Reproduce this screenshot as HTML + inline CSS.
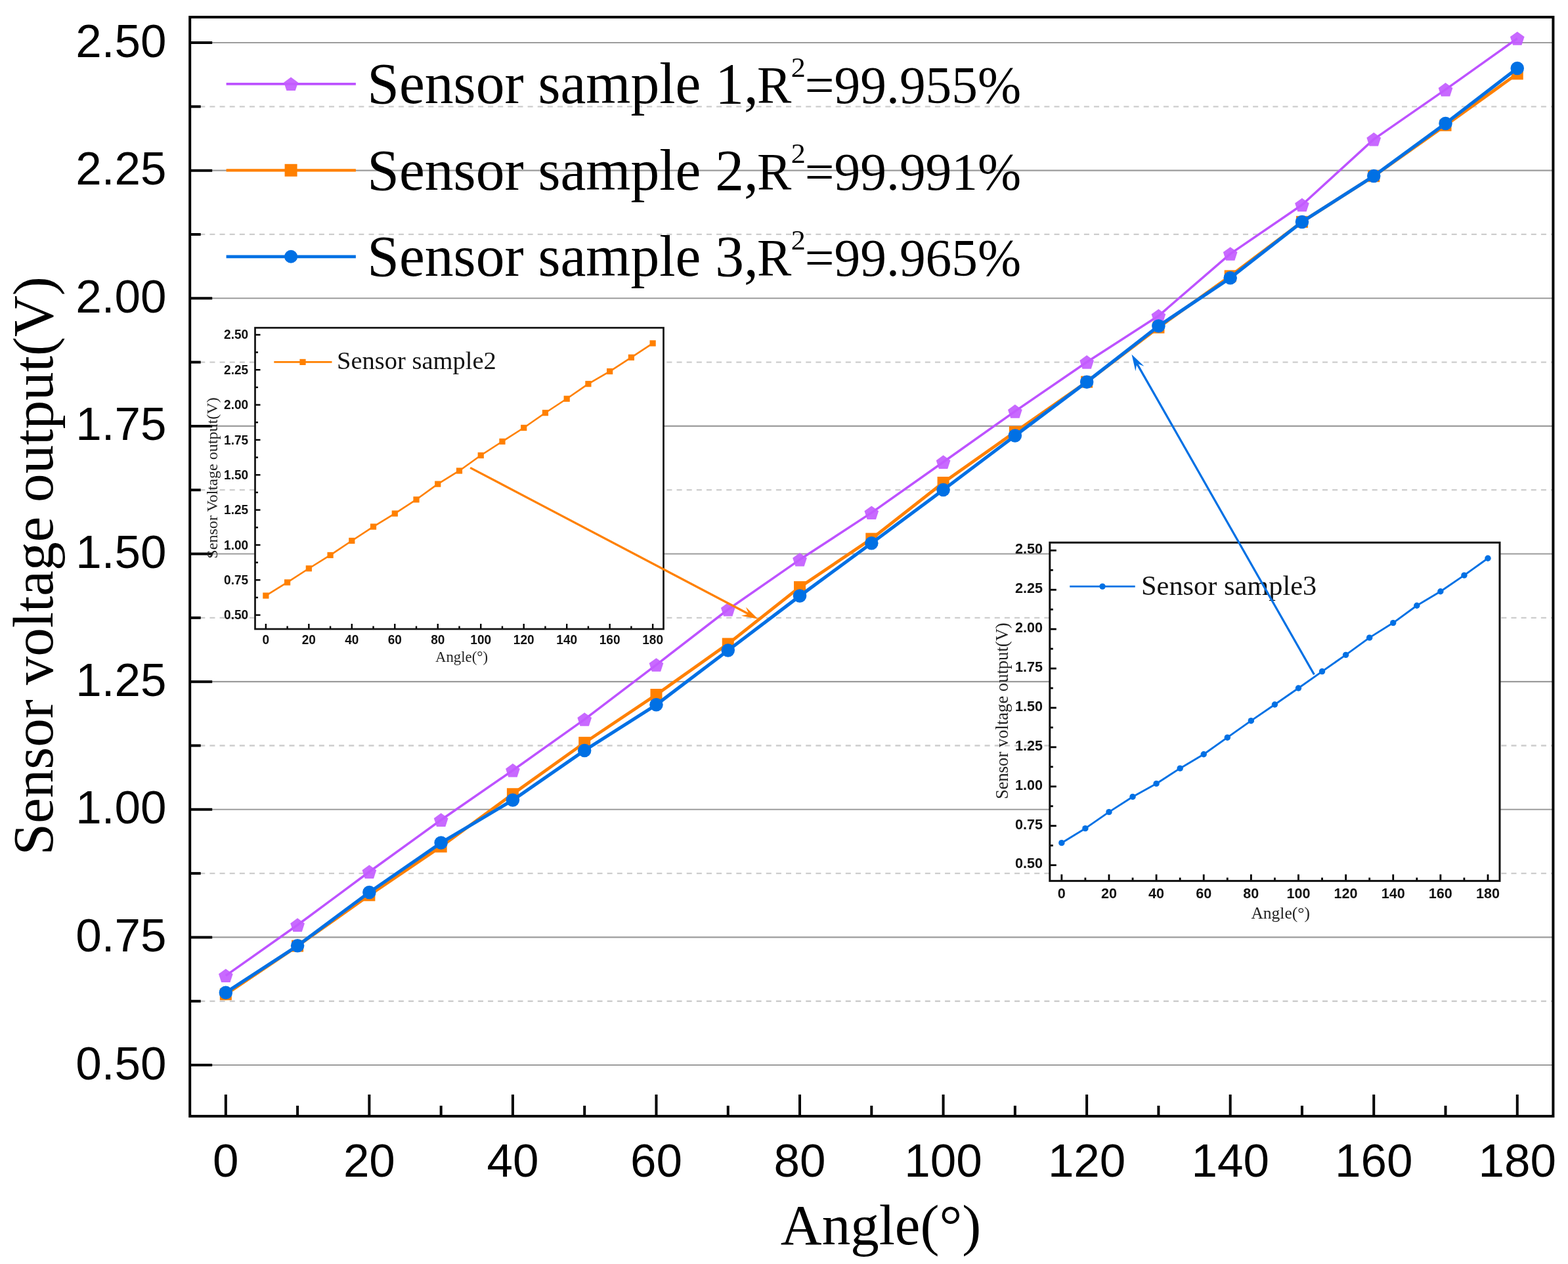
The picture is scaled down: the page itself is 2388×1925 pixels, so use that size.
<!DOCTYPE html>
<html><head><meta charset="utf-8"><title>Sensor voltage output vs angle</title>
<style>
html,body{margin:0;padding:0;background:#fff;}
body{width:2388px;height:1925px;overflow:hidden;}
svg{display:block;}
</style></head>
<body>
<svg width="2388" height="1925" viewBox="0 0 2388 1925">
<rect x="0" y="0" width="2388" height="1925" fill="#fff"/>
<line x1="289.20" y1="1524.73" x2="2365.40" y2="1524.73" stroke="#cdcdcd" stroke-width="2.3" stroke-dasharray="8 7.13"/>
<line x1="289.20" y1="1330.11" x2="2365.40" y2="1330.11" stroke="#cdcdcd" stroke-width="2.3" stroke-dasharray="8 7.13"/>
<line x1="289.20" y1="1135.48" x2="2365.40" y2="1135.48" stroke="#cdcdcd" stroke-width="2.3" stroke-dasharray="8 7.13"/>
<line x1="289.20" y1="940.85" x2="2365.40" y2="940.85" stroke="#cdcdcd" stroke-width="2.3" stroke-dasharray="8 7.13"/>
<line x1="289.20" y1="746.22" x2="2365.40" y2="746.22" stroke="#cdcdcd" stroke-width="2.3" stroke-dasharray="8 7.13"/>
<line x1="289.20" y1="551.60" x2="2365.40" y2="551.60" stroke="#cdcdcd" stroke-width="2.3" stroke-dasharray="8 7.13"/>
<line x1="289.20" y1="356.97" x2="2365.40" y2="356.97" stroke="#cdcdcd" stroke-width="2.3" stroke-dasharray="8 7.13"/>
<line x1="289.20" y1="162.34" x2="2365.40" y2="162.34" stroke="#cdcdcd" stroke-width="2.3" stroke-dasharray="8 7.13"/>
<line x1="289.20" y1="1622.05" x2="2365.40" y2="1622.05" stroke="#9c9c9c" stroke-width="2.1"/>
<line x1="289.20" y1="1427.42" x2="2365.40" y2="1427.42" stroke="#9c9c9c" stroke-width="2.1"/>
<line x1="289.20" y1="1232.79" x2="2365.40" y2="1232.79" stroke="#9c9c9c" stroke-width="2.1"/>
<line x1="289.20" y1="1038.17" x2="2365.40" y2="1038.17" stroke="#9c9c9c" stroke-width="2.1"/>
<line x1="289.20" y1="843.54" x2="2365.40" y2="843.54" stroke="#9c9c9c" stroke-width="2.1"/>
<line x1="289.20" y1="648.91" x2="2365.40" y2="648.91" stroke="#9c9c9c" stroke-width="2.1"/>
<line x1="289.20" y1="454.28" x2="2365.40" y2="454.28" stroke="#9c9c9c" stroke-width="2.1"/>
<line x1="289.20" y1="259.65" x2="2365.40" y2="259.65" stroke="#9c9c9c" stroke-width="2.1"/>
<line x1="289.20" y1="65.03" x2="2365.40" y2="65.03" stroke="#9c9c9c" stroke-width="2.1"/>
<line x1="289.20" y1="1622.05" x2="323.20" y2="1622.05" stroke="#000" stroke-width="4"/>
<line x1="289.20" y1="1427.42" x2="323.20" y2="1427.42" stroke="#000" stroke-width="4"/>
<line x1="289.20" y1="1232.79" x2="323.20" y2="1232.79" stroke="#000" stroke-width="4"/>
<line x1="289.20" y1="1038.17" x2="323.20" y2="1038.17" stroke="#000" stroke-width="4"/>
<line x1="289.20" y1="843.54" x2="323.20" y2="843.54" stroke="#000" stroke-width="4"/>
<line x1="289.20" y1="648.91" x2="323.20" y2="648.91" stroke="#000" stroke-width="4"/>
<line x1="289.20" y1="454.28" x2="323.20" y2="454.28" stroke="#000" stroke-width="4"/>
<line x1="289.20" y1="259.65" x2="323.20" y2="259.65" stroke="#000" stroke-width="4"/>
<line x1="289.20" y1="65.03" x2="323.20" y2="65.03" stroke="#000" stroke-width="4"/>
<line x1="289.20" y1="1524.73" x2="305.70" y2="1524.73" stroke="#000" stroke-width="4"/>
<line x1="289.20" y1="1330.11" x2="305.70" y2="1330.11" stroke="#000" stroke-width="4"/>
<line x1="289.20" y1="1135.48" x2="305.70" y2="1135.48" stroke="#000" stroke-width="4"/>
<line x1="289.20" y1="940.85" x2="305.70" y2="940.85" stroke="#000" stroke-width="4"/>
<line x1="289.20" y1="746.22" x2="305.70" y2="746.22" stroke="#000" stroke-width="4"/>
<line x1="289.20" y1="551.60" x2="305.70" y2="551.60" stroke="#000" stroke-width="4"/>
<line x1="289.20" y1="356.97" x2="305.70" y2="356.97" stroke="#000" stroke-width="4"/>
<line x1="289.20" y1="162.34" x2="305.70" y2="162.34" stroke="#000" stroke-width="4"/>
<line x1="343.84" y1="1699.90" x2="343.84" y2="1666.90" stroke="#000" stroke-width="4"/>
<line x1="562.38" y1="1699.90" x2="562.38" y2="1666.90" stroke="#000" stroke-width="4"/>
<line x1="780.93" y1="1699.90" x2="780.93" y2="1666.90" stroke="#000" stroke-width="4"/>
<line x1="999.48" y1="1699.90" x2="999.48" y2="1666.90" stroke="#000" stroke-width="4"/>
<line x1="1218.03" y1="1699.90" x2="1218.03" y2="1666.90" stroke="#000" stroke-width="4"/>
<line x1="1436.57" y1="1699.90" x2="1436.57" y2="1666.90" stroke="#000" stroke-width="4"/>
<line x1="1655.12" y1="1699.90" x2="1655.12" y2="1666.90" stroke="#000" stroke-width="4"/>
<line x1="1873.67" y1="1699.90" x2="1873.67" y2="1666.90" stroke="#000" stroke-width="4"/>
<line x1="2092.22" y1="1699.90" x2="2092.22" y2="1666.90" stroke="#000" stroke-width="4"/>
<line x1="2310.76" y1="1699.90" x2="2310.76" y2="1666.90" stroke="#000" stroke-width="4"/>
<line x1="453.11" y1="1699.90" x2="453.11" y2="1683.90" stroke="#000" stroke-width="4"/>
<line x1="671.66" y1="1699.90" x2="671.66" y2="1683.90" stroke="#000" stroke-width="4"/>
<line x1="890.21" y1="1699.90" x2="890.21" y2="1683.90" stroke="#000" stroke-width="4"/>
<line x1="1108.75" y1="1699.90" x2="1108.75" y2="1683.90" stroke="#000" stroke-width="4"/>
<line x1="1327.30" y1="1699.90" x2="1327.30" y2="1683.90" stroke="#000" stroke-width="4"/>
<line x1="1545.85" y1="1699.90" x2="1545.85" y2="1683.90" stroke="#000" stroke-width="4"/>
<line x1="1764.39" y1="1699.90" x2="1764.39" y2="1683.90" stroke="#000" stroke-width="4"/>
<line x1="1982.94" y1="1699.90" x2="1982.94" y2="1683.90" stroke="#000" stroke-width="4"/>
<line x1="2201.49" y1="1699.90" x2="2201.49" y2="1683.90" stroke="#000" stroke-width="4"/>
<text x="253.4" y="1643.55" font-family="'Liberation Sans', Arial, sans-serif" font-size="71" text-anchor="end" fill="#000">0.50</text>
<text x="253.4" y="1448.92" font-family="'Liberation Sans', Arial, sans-serif" font-size="71" text-anchor="end" fill="#000">0.75</text>
<text x="253.4" y="1254.29" font-family="'Liberation Sans', Arial, sans-serif" font-size="71" text-anchor="end" fill="#000">1.00</text>
<text x="253.4" y="1059.67" font-family="'Liberation Sans', Arial, sans-serif" font-size="71" text-anchor="end" fill="#000">1.25</text>
<text x="253.4" y="865.04" font-family="'Liberation Sans', Arial, sans-serif" font-size="71" text-anchor="end" fill="#000">1.50</text>
<text x="253.4" y="670.41" font-family="'Liberation Sans', Arial, sans-serif" font-size="71" text-anchor="end" fill="#000">1.75</text>
<text x="253.4" y="475.78" font-family="'Liberation Sans', Arial, sans-serif" font-size="71" text-anchor="end" fill="#000">2.00</text>
<text x="253.4" y="281.15" font-family="'Liberation Sans', Arial, sans-serif" font-size="71" text-anchor="end" fill="#000">2.25</text>
<text x="253.4" y="86.53" font-family="'Liberation Sans', Arial, sans-serif" font-size="71" text-anchor="end" fill="#000">2.50</text>
<text x="343.84" y="1792" font-family="'Liberation Sans', Arial, sans-serif" font-size="71" text-anchor="middle" fill="#000">0</text>
<text x="562.38" y="1792" font-family="'Liberation Sans', Arial, sans-serif" font-size="71" text-anchor="middle" fill="#000">20</text>
<text x="780.93" y="1792" font-family="'Liberation Sans', Arial, sans-serif" font-size="71" text-anchor="middle" fill="#000">40</text>
<text x="999.48" y="1792" font-family="'Liberation Sans', Arial, sans-serif" font-size="71" text-anchor="middle" fill="#000">60</text>
<text x="1218.03" y="1792" font-family="'Liberation Sans', Arial, sans-serif" font-size="71" text-anchor="middle" fill="#000">80</text>
<text x="1436.57" y="1792" font-family="'Liberation Sans', Arial, sans-serif" font-size="71" text-anchor="middle" fill="#000">100</text>
<text x="1655.12" y="1792" font-family="'Liberation Sans', Arial, sans-serif" font-size="71" text-anchor="middle" fill="#000">120</text>
<text x="1873.67" y="1792" font-family="'Liberation Sans', Arial, sans-serif" font-size="71" text-anchor="middle" fill="#000">140</text>
<text x="2092.22" y="1792" font-family="'Liberation Sans', Arial, sans-serif" font-size="71" text-anchor="middle" fill="#000">160</text>
<text x="2310.76" y="1792" font-family="'Liberation Sans', Arial, sans-serif" font-size="71" text-anchor="middle" fill="#000">180</text>
<text x="1341.5" y="1895" font-family="'Liberation Serif', 'Times New Roman', serif" font-size="87" text-anchor="middle" fill="#000">Angle(°)</text>
<text transform="translate(80.3,861.8) rotate(-90)" x="0" y="0" font-family="'Liberation Serif', 'Times New Roman', serif" font-size="87.2" text-anchor="middle" fill="#000">Sensor voltage output(V)</text>
<line x1="344.6" y1="127.9" x2="541.9" y2="127.9" stroke="#BD52FF" stroke-width="3.8"/>
<polygon points="443.10,117.50 453.94,125.38 449.80,138.12 436.40,138.12 432.26,125.38" fill="#C35CFF" opacity="0.92"/>
<text transform="translate(559.24,157.40) scale(0.995,1)" font-family="'Liberation Serif', 'Times New Roman', serif" font-size="88" fill="#000">Sensor sample 1,</text>
<text transform="translate(1153.1,157.40) scale(0.98,1)" font-family="'Liberation Serif', 'Times New Roman', serif" font-size="80" fill="#000">R</text>
<text transform="translate(1204.7,116.90) scale(1.05,1)" font-family="'Liberation Serif', 'Times New Roman', serif" font-size="42" fill="#000">2</text>
<text transform="translate(1225.8,157.40) scale(0.993,1)" font-family="'Liberation Serif', 'Times New Roman', serif" font-size="80" fill="#000">=99.955%</text>
<line x1="344.6" y1="259.3" x2="541.9" y2="259.3" stroke="#FF8000" stroke-width="4.2"/>
<rect x="433.6" y="249.8" width="19" height="19" fill="#FF8000"/>
<text transform="translate(559.24,288.80) scale(0.995,1)" font-family="'Liberation Serif', 'Times New Roman', serif" font-size="88" fill="#000">Sensor sample 2,</text>
<text transform="translate(1153.1,288.80) scale(0.98,1)" font-family="'Liberation Serif', 'Times New Roman', serif" font-size="80" fill="#000">R</text>
<text transform="translate(1204.7,248.30) scale(1.05,1)" font-family="'Liberation Serif', 'Times New Roman', serif" font-size="42" fill="#000">2</text>
<text transform="translate(1225.8,288.80) scale(0.993,1)" font-family="'Liberation Serif', 'Times New Roman', serif" font-size="80" fill="#000">=99.991%</text>
<line x1="344.6" y1="390.8" x2="541.9" y2="390.8" stroke="#0070E4" stroke-width="4.8"/>
<circle cx="443.1" cy="390.8" r="10" fill="#0070E4"/>
<text transform="translate(559.24,420.30) scale(0.995,1)" font-family="'Liberation Serif', 'Times New Roman', serif" font-size="88" fill="#000">Sensor sample 3,</text>
<text transform="translate(1153.1,420.30) scale(0.98,1)" font-family="'Liberation Serif', 'Times New Roman', serif" font-size="80" fill="#000">R</text>
<text transform="translate(1204.7,379.80) scale(1.05,1)" font-family="'Liberation Serif', 'Times New Roman', serif" font-size="42" fill="#000">2</text>
<text transform="translate(1225.8,420.30) scale(0.993,1)" font-family="'Liberation Serif', 'Times New Roman', serif" font-size="80" fill="#000">=99.965%</text>
<polyline points="343.84,1485.81 453.11,1408.74 562.38,1327.77 671.66,1248.75 780.93,1173.24 890.21,1095.62 999.48,1012.55 1108.75,928.24 1218.03,852.33 1327.30,780.87 1436.57,703.72 1545.85,626.41 1655.12,551.44 1764.39,481.06 1873.67,386.63 1982.94,312.05 2092.22,212.16 2201.49,136.42 2310.76,58.64" fill="none" stroke="#BD52FF" stroke-width="3.5" stroke-linejoin="round"/>
<polygon points="343.84,1475.41 354.68,1483.29 350.54,1496.03 337.14,1496.03 332.99,1483.29" fill="#C35CFF" opacity="0.92"/>
<polygon points="453.11,1398.34 463.95,1406.21 459.81,1418.96 446.41,1418.96 442.27,1406.21" fill="#C35CFF" opacity="0.92"/>
<polygon points="562.38,1317.37 573.23,1325.25 569.08,1337.99 555.68,1337.99 551.54,1325.25" fill="#C35CFF" opacity="0.92"/>
<polygon points="671.66,1238.35 682.50,1246.23 678.36,1258.98 664.96,1258.98 660.82,1246.23" fill="#C35CFF" opacity="0.92"/>
<polygon points="780.93,1162.84 791.77,1170.71 787.63,1183.46 774.23,1183.46 770.09,1170.71" fill="#C35CFF" opacity="0.92"/>
<polygon points="890.21,1085.22 901.05,1093.10 896.91,1105.84 883.50,1105.84 879.36,1093.10" fill="#C35CFF" opacity="0.92"/>
<polygon points="999.48,1002.15 1010.32,1010.03 1006.18,1022.77 992.78,1022.77 988.64,1010.03" fill="#C35CFF" opacity="0.92"/>
<polygon points="1108.75,917.84 1119.59,925.72 1115.45,938.46 1102.05,938.46 1097.91,925.72" fill="#C35CFF" opacity="0.92"/>
<polygon points="1218.03,841.93 1228.87,849.81 1224.73,862.56 1211.33,862.56 1207.18,849.81" fill="#C35CFF" opacity="0.92"/>
<polygon points="1327.30,770.47 1338.14,778.34 1334.00,791.09 1320.60,791.09 1316.46,778.34" fill="#C35CFF" opacity="0.92"/>
<polygon points="1436.57,693.32 1447.42,701.19 1443.27,713.94 1429.87,713.94 1425.73,701.19" fill="#C35CFF" opacity="0.92"/>
<polygon points="1545.85,616.01 1556.69,623.89 1552.55,636.63 1539.15,636.63 1535.01,623.89" fill="#C35CFF" opacity="0.92"/>
<polygon points="1655.12,541.04 1665.96,548.92 1661.82,561.66 1648.42,561.66 1644.28,548.92" fill="#C35CFF" opacity="0.92"/>
<polygon points="1764.39,470.66 1775.24,478.54 1771.10,491.28 1757.69,491.28 1753.55,478.54" fill="#C35CFF" opacity="0.92"/>
<polygon points="1873.67,376.23 1884.51,384.11 1880.37,396.85 1866.97,396.85 1862.83,384.11" fill="#C35CFF" opacity="0.92"/>
<polygon points="1982.94,301.65 1993.78,309.52 1989.64,322.27 1976.24,322.27 1972.10,309.52" fill="#C35CFF" opacity="0.92"/>
<polygon points="2092.22,201.76 2103.06,209.64 2098.92,222.39 2085.52,222.39 2081.37,209.64" fill="#C35CFF" opacity="0.92"/>
<polygon points="2201.49,126.02 2212.33,133.89 2208.19,146.64 2194.79,146.64 2190.65,133.89" fill="#C35CFF" opacity="0.92"/>
<polygon points="2310.76,48.24 2321.61,56.12 2317.46,68.86 2304.06,68.86 2299.92,56.12" fill="#C35CFF" opacity="0.92"/>
<polyline points="343.84,1514.22 453.11,1440.66 562.38,1363.35 671.66,1289.31 780.93,1209.28 890.21,1131.12 999.48,1058.02 1108.75,980.56 1218.03,894.14 1327.30,820.57 1436.57,735.01 1545.85,657.86 1655.12,581.65 1764.39,498.66 1873.67,420.42 1982.94,337.89 2092.22,268.22 2201.49,190.76 2310.76,112.36" fill="none" stroke="#FF8000" stroke-width="4.8" stroke-linejoin="round"/>
<rect x="334.84" y="1505.22" width="18" height="18" fill="#FF8000"/>
<rect x="444.11" y="1431.66" width="18" height="18" fill="#FF8000"/>
<rect x="553.38" y="1354.35" width="18" height="18" fill="#FF8000"/>
<rect x="662.66" y="1280.31" width="18" height="18" fill="#FF8000"/>
<rect x="771.93" y="1200.28" width="18" height="18" fill="#FF8000"/>
<rect x="881.21" y="1122.12" width="18" height="18" fill="#FF8000"/>
<rect x="990.48" y="1049.02" width="18" height="18" fill="#FF8000"/>
<rect x="1099.75" y="971.56" width="18" height="18" fill="#FF8000"/>
<rect x="1209.03" y="885.14" width="18" height="18" fill="#FF8000"/>
<rect x="1318.30" y="811.57" width="18" height="18" fill="#FF8000"/>
<rect x="1427.57" y="726.01" width="18" height="18" fill="#FF8000"/>
<rect x="1536.85" y="648.86" width="18" height="18" fill="#FF8000"/>
<rect x="1646.12" y="572.65" width="18" height="18" fill="#FF8000"/>
<rect x="1755.39" y="489.66" width="18" height="18" fill="#FF8000"/>
<rect x="1864.67" y="411.42" width="18" height="18" fill="#FF8000"/>
<rect x="1973.94" y="328.89" width="18" height="18" fill="#FF8000"/>
<rect x="2083.22" y="259.22" width="18" height="18" fill="#FF8000"/>
<rect x="2192.49" y="181.76" width="18" height="18" fill="#FF8000"/>
<rect x="2301.76" y="103.36" width="18" height="18" fill="#FF8000"/>
<polyline points="343.84,1511.73 453.11,1440.27 562.38,1358.99 671.66,1283.55 780.93,1218.55 890.21,1142.95 999.48,1073.35 1108.75,990.44 1218.03,907.61 1327.30,827.27 1436.57,746.07 1545.85,663.62 1655.12,581.65 1764.39,496.55 1873.67,423.30 1982.94,337.89 2092.22,268.06 2201.49,188.03 2310.76,104.03" fill="none" stroke="#0070E4" stroke-width="5.1" stroke-linejoin="round"/>
<circle cx="343.84" cy="1511.73" r="10.25" fill="#0070E4"/>
<circle cx="453.11" cy="1440.27" r="10.25" fill="#0070E4"/>
<circle cx="562.38" cy="1358.99" r="10.25" fill="#0070E4"/>
<circle cx="671.66" cy="1283.55" r="10.25" fill="#0070E4"/>
<circle cx="780.93" cy="1218.55" r="10.25" fill="#0070E4"/>
<circle cx="890.21" cy="1142.95" r="10.25" fill="#0070E4"/>
<circle cx="999.48" cy="1073.35" r="10.25" fill="#0070E4"/>
<circle cx="1108.75" cy="990.44" r="10.25" fill="#0070E4"/>
<circle cx="1218.03" cy="907.61" r="10.25" fill="#0070E4"/>
<circle cx="1327.30" cy="827.27" r="10.25" fill="#0070E4"/>
<circle cx="1436.57" cy="746.07" r="10.25" fill="#0070E4"/>
<circle cx="1545.85" cy="663.62" r="10.25" fill="#0070E4"/>
<circle cx="1655.12" cy="581.65" r="10.25" fill="#0070E4"/>
<circle cx="1764.39" cy="496.55" r="10.25" fill="#0070E4"/>
<circle cx="1873.67" cy="423.30" r="10.25" fill="#0070E4"/>
<circle cx="1982.94" cy="337.89" r="10.25" fill="#0070E4"/>
<circle cx="2092.22" cy="268.06" r="10.25" fill="#0070E4"/>
<circle cx="2201.49" cy="188.03" r="10.25" fill="#0070E4"/>
<circle cx="2310.76" cy="104.03" r="10.25" fill="#0070E4"/>
<rect x="289.20" y="26.10" width="2076.20" height="1673.80" fill="none" stroke="#000" stroke-width="4"/>
<rect x="388.50" y="499.20" width="622.00" height="458.80" fill="#fff"/>
<line x1="388.50" y1="936.66" x2="396.50" y2="936.66" stroke="#000" stroke-width="2.4"/>
<line x1="388.50" y1="883.31" x2="396.50" y2="883.31" stroke="#000" stroke-width="2.4"/>
<line x1="388.50" y1="829.96" x2="396.50" y2="829.96" stroke="#000" stroke-width="2.4"/>
<line x1="388.50" y1="776.61" x2="396.50" y2="776.61" stroke="#000" stroke-width="2.4"/>
<line x1="388.50" y1="723.27" x2="396.50" y2="723.27" stroke="#000" stroke-width="2.4"/>
<line x1="388.50" y1="669.92" x2="396.50" y2="669.92" stroke="#000" stroke-width="2.4"/>
<line x1="388.50" y1="616.57" x2="396.50" y2="616.57" stroke="#000" stroke-width="2.4"/>
<line x1="388.50" y1="563.22" x2="396.50" y2="563.22" stroke="#000" stroke-width="2.4"/>
<line x1="388.50" y1="509.87" x2="396.50" y2="509.87" stroke="#000" stroke-width="2.4"/>
<line x1="388.50" y1="909.99" x2="393.00" y2="909.99" stroke="#000" stroke-width="2.4"/>
<line x1="388.50" y1="856.64" x2="393.00" y2="856.64" stroke="#000" stroke-width="2.4"/>
<line x1="388.50" y1="803.29" x2="393.00" y2="803.29" stroke="#000" stroke-width="2.4"/>
<line x1="388.50" y1="749.94" x2="393.00" y2="749.94" stroke="#000" stroke-width="2.4"/>
<line x1="388.50" y1="696.59" x2="393.00" y2="696.59" stroke="#000" stroke-width="2.4"/>
<line x1="388.50" y1="643.24" x2="393.00" y2="643.24" stroke="#000" stroke-width="2.4"/>
<line x1="388.50" y1="589.89" x2="393.00" y2="589.89" stroke="#000" stroke-width="2.4"/>
<line x1="388.50" y1="536.54" x2="393.00" y2="536.54" stroke="#000" stroke-width="2.4"/>
<line x1="404.87" y1="958.00" x2="404.87" y2="950.00" stroke="#000" stroke-width="2.4"/>
<line x1="470.34" y1="958.00" x2="470.34" y2="950.00" stroke="#000" stroke-width="2.4"/>
<line x1="535.82" y1="958.00" x2="535.82" y2="950.00" stroke="#000" stroke-width="2.4"/>
<line x1="601.29" y1="958.00" x2="601.29" y2="950.00" stroke="#000" stroke-width="2.4"/>
<line x1="666.76" y1="958.00" x2="666.76" y2="950.00" stroke="#000" stroke-width="2.4"/>
<line x1="732.24" y1="958.00" x2="732.24" y2="950.00" stroke="#000" stroke-width="2.4"/>
<line x1="797.71" y1="958.00" x2="797.71" y2="950.00" stroke="#000" stroke-width="2.4"/>
<line x1="863.18" y1="958.00" x2="863.18" y2="950.00" stroke="#000" stroke-width="2.4"/>
<line x1="928.66" y1="958.00" x2="928.66" y2="950.00" stroke="#000" stroke-width="2.4"/>
<line x1="994.13" y1="958.00" x2="994.13" y2="950.00" stroke="#000" stroke-width="2.4"/>
<line x1="437.61" y1="958.00" x2="437.61" y2="953.50" stroke="#000" stroke-width="2.4"/>
<line x1="503.08" y1="958.00" x2="503.08" y2="953.50" stroke="#000" stroke-width="2.4"/>
<line x1="568.55" y1="958.00" x2="568.55" y2="953.50" stroke="#000" stroke-width="2.4"/>
<line x1="634.03" y1="958.00" x2="634.03" y2="953.50" stroke="#000" stroke-width="2.4"/>
<line x1="699.50" y1="958.00" x2="699.50" y2="953.50" stroke="#000" stroke-width="2.4"/>
<line x1="764.97" y1="958.00" x2="764.97" y2="953.50" stroke="#000" stroke-width="2.4"/>
<line x1="830.45" y1="958.00" x2="830.45" y2="953.50" stroke="#000" stroke-width="2.4"/>
<line x1="895.92" y1="958.00" x2="895.92" y2="953.50" stroke="#000" stroke-width="2.4"/>
<line x1="961.39" y1="958.00" x2="961.39" y2="953.50" stroke="#000" stroke-width="2.4"/>
<text transform="translate(378.20,943.26) scale(0.93,1)" font-family="'Liberation Sans', Arial, sans-serif" font-weight="bold" font-size="20.5" text-anchor="end" fill="#111">0.50</text>
<text transform="translate(378.20,889.91) scale(0.93,1)" font-family="'Liberation Sans', Arial, sans-serif" font-weight="bold" font-size="20.5" text-anchor="end" fill="#111">0.75</text>
<text transform="translate(378.20,836.56) scale(0.93,1)" font-family="'Liberation Sans', Arial, sans-serif" font-weight="bold" font-size="20.5" text-anchor="end" fill="#111">1.00</text>
<text transform="translate(378.20,783.21) scale(0.93,1)" font-family="'Liberation Sans', Arial, sans-serif" font-weight="bold" font-size="20.5" text-anchor="end" fill="#111">1.25</text>
<text transform="translate(378.20,729.87) scale(0.93,1)" font-family="'Liberation Sans', Arial, sans-serif" font-weight="bold" font-size="20.5" text-anchor="end" fill="#111">1.50</text>
<text transform="translate(378.20,676.52) scale(0.93,1)" font-family="'Liberation Sans', Arial, sans-serif" font-weight="bold" font-size="20.5" text-anchor="end" fill="#111">1.75</text>
<text transform="translate(378.20,623.17) scale(0.93,1)" font-family="'Liberation Sans', Arial, sans-serif" font-weight="bold" font-size="20.5" text-anchor="end" fill="#111">2.00</text>
<text transform="translate(378.20,569.82) scale(0.93,1)" font-family="'Liberation Sans', Arial, sans-serif" font-weight="bold" font-size="20.5" text-anchor="end" fill="#111">2.25</text>
<text transform="translate(378.20,516.47) scale(0.93,1)" font-family="'Liberation Sans', Arial, sans-serif" font-weight="bold" font-size="20.5" text-anchor="end" fill="#111">2.50</text>
<text transform="translate(404.87,981.00) scale(0.93,1)" font-family="'Liberation Sans', Arial, sans-serif" font-weight="bold" font-size="20.5" text-anchor="middle" fill="#111">0</text>
<text transform="translate(470.34,981.00) scale(0.93,1)" font-family="'Liberation Sans', Arial, sans-serif" font-weight="bold" font-size="20.5" text-anchor="middle" fill="#111">20</text>
<text transform="translate(535.82,981.00) scale(0.93,1)" font-family="'Liberation Sans', Arial, sans-serif" font-weight="bold" font-size="20.5" text-anchor="middle" fill="#111">40</text>
<text transform="translate(601.29,981.00) scale(0.93,1)" font-family="'Liberation Sans', Arial, sans-serif" font-weight="bold" font-size="20.5" text-anchor="middle" fill="#111">60</text>
<text transform="translate(666.76,981.00) scale(0.93,1)" font-family="'Liberation Sans', Arial, sans-serif" font-weight="bold" font-size="20.5" text-anchor="middle" fill="#111">80</text>
<text transform="translate(732.24,981.00) scale(0.93,1)" font-family="'Liberation Sans', Arial, sans-serif" font-weight="bold" font-size="20.5" text-anchor="middle" fill="#111">100</text>
<text transform="translate(797.71,981.00) scale(0.93,1)" font-family="'Liberation Sans', Arial, sans-serif" font-weight="bold" font-size="20.5" text-anchor="middle" fill="#111">120</text>
<text transform="translate(863.18,981.00) scale(0.93,1)" font-family="'Liberation Sans', Arial, sans-serif" font-weight="bold" font-size="20.5" text-anchor="middle" fill="#111">140</text>
<text transform="translate(928.66,981.00) scale(0.93,1)" font-family="'Liberation Sans', Arial, sans-serif" font-weight="bold" font-size="20.5" text-anchor="middle" fill="#111">160</text>
<text transform="translate(994.13,981.00) scale(0.93,1)" font-family="'Liberation Sans', Arial, sans-serif" font-weight="bold" font-size="20.5" text-anchor="middle" fill="#111">180</text>
<text x="703.00" y="1007.80" font-family="'Liberation Serif', 'Times New Roman', serif" font-size="22.8" text-anchor="middle" fill="#222">Angle(°)</text>
<text transform="translate(331.00,728.00) rotate(-90)" font-family="'Liberation Serif', 'Times New Roman', serif" font-size="24.1" text-anchor="middle" fill="#222">Sensor Voltage output(V)</text>
<polyline points="404.87,907.11 437.61,886.94 470.34,865.75 503.08,845.46 535.82,823.52 568.55,802.09 601.29,782.06 634.03,760.82 666.76,737.14 699.50,716.97 732.24,693.52 764.97,672.37 797.71,651.48 830.45,628.73 863.18,607.28 895.92,584.66 928.66,565.57 961.39,544.33 994.13,522.84" fill="none" stroke="#FF8000" stroke-width="2.6" stroke-linejoin="round"/>
<rect x="400.27" y="902.51" width="9.2" height="9.2" fill="#FF8000"/>
<rect x="433.01" y="882.34" width="9.2" height="9.2" fill="#FF8000"/>
<rect x="465.74" y="861.15" width="9.2" height="9.2" fill="#FF8000"/>
<rect x="498.48" y="840.86" width="9.2" height="9.2" fill="#FF8000"/>
<rect x="531.22" y="818.92" width="9.2" height="9.2" fill="#FF8000"/>
<rect x="563.95" y="797.49" width="9.2" height="9.2" fill="#FF8000"/>
<rect x="596.69" y="777.46" width="9.2" height="9.2" fill="#FF8000"/>
<rect x="629.43" y="756.22" width="9.2" height="9.2" fill="#FF8000"/>
<rect x="662.16" y="732.54" width="9.2" height="9.2" fill="#FF8000"/>
<rect x="694.90" y="712.37" width="9.2" height="9.2" fill="#FF8000"/>
<rect x="727.64" y="688.92" width="9.2" height="9.2" fill="#FF8000"/>
<rect x="760.37" y="667.77" width="9.2" height="9.2" fill="#FF8000"/>
<rect x="793.11" y="646.88" width="9.2" height="9.2" fill="#FF8000"/>
<rect x="825.85" y="624.13" width="9.2" height="9.2" fill="#FF8000"/>
<rect x="858.58" y="602.68" width="9.2" height="9.2" fill="#FF8000"/>
<rect x="891.32" y="580.06" width="9.2" height="9.2" fill="#FF8000"/>
<rect x="924.06" y="560.97" width="9.2" height="9.2" fill="#FF8000"/>
<rect x="956.79" y="539.73" width="9.2" height="9.2" fill="#FF8000"/>
<rect x="989.53" y="518.24" width="9.2" height="9.2" fill="#FF8000"/>
<line x1="417.30" y1="551.40" x2="505.50" y2="551.40" stroke="#FF8000" stroke-width="2.6"/>
<rect x="456.40" y="546.80" width="9.2" height="9.2" fill="#FF8000"/>
<text x="513.00" y="562.00" font-family="'Liberation Serif', 'Times New Roman', serif" font-size="38.5" fill="#111">Sensor sample2</text>
<rect x="388.50" y="499.20" width="622.00" height="458.80" fill="none" stroke="#111" stroke-width="2.7"/>
<rect x="1598.80" y="826.30" width="685.20" height="515.30" fill="#fff"/>
<line x1="1598.80" y1="1317.63" x2="1608.80" y2="1317.63" stroke="#000" stroke-width="2.8"/>
<line x1="1598.80" y1="1257.71" x2="1608.80" y2="1257.71" stroke="#000" stroke-width="2.8"/>
<line x1="1598.80" y1="1197.80" x2="1608.80" y2="1197.80" stroke="#000" stroke-width="2.8"/>
<line x1="1598.80" y1="1137.88" x2="1608.80" y2="1137.88" stroke="#000" stroke-width="2.8"/>
<line x1="1598.80" y1="1077.96" x2="1608.80" y2="1077.96" stroke="#000" stroke-width="2.8"/>
<line x1="1598.80" y1="1018.04" x2="1608.80" y2="1018.04" stroke="#000" stroke-width="2.8"/>
<line x1="1598.80" y1="958.12" x2="1608.80" y2="958.12" stroke="#000" stroke-width="2.8"/>
<line x1="1598.80" y1="898.20" x2="1608.80" y2="898.20" stroke="#000" stroke-width="2.8"/>
<line x1="1598.80" y1="838.28" x2="1608.80" y2="838.28" stroke="#000" stroke-width="2.8"/>
<line x1="1598.80" y1="1287.67" x2="1603.80" y2="1287.67" stroke="#000" stroke-width="2.8"/>
<line x1="1598.80" y1="1227.75" x2="1603.80" y2="1227.75" stroke="#000" stroke-width="2.8"/>
<line x1="1598.80" y1="1167.84" x2="1603.80" y2="1167.84" stroke="#000" stroke-width="2.8"/>
<line x1="1598.80" y1="1107.92" x2="1603.80" y2="1107.92" stroke="#000" stroke-width="2.8"/>
<line x1="1598.80" y1="1048.00" x2="1603.80" y2="1048.00" stroke="#000" stroke-width="2.8"/>
<line x1="1598.80" y1="988.08" x2="1603.80" y2="988.08" stroke="#000" stroke-width="2.8"/>
<line x1="1598.80" y1="928.16" x2="1603.80" y2="928.16" stroke="#000" stroke-width="2.8"/>
<line x1="1598.80" y1="868.24" x2="1603.80" y2="868.24" stroke="#000" stroke-width="2.8"/>
<line x1="1616.83" y1="1341.60" x2="1616.83" y2="1331.60" stroke="#000" stroke-width="2.8"/>
<line x1="1688.96" y1="1341.60" x2="1688.96" y2="1331.60" stroke="#000" stroke-width="2.8"/>
<line x1="1761.08" y1="1341.60" x2="1761.08" y2="1331.60" stroke="#000" stroke-width="2.8"/>
<line x1="1833.21" y1="1341.60" x2="1833.21" y2="1331.60" stroke="#000" stroke-width="2.8"/>
<line x1="1905.34" y1="1341.60" x2="1905.34" y2="1331.60" stroke="#000" stroke-width="2.8"/>
<line x1="1977.46" y1="1341.60" x2="1977.46" y2="1331.60" stroke="#000" stroke-width="2.8"/>
<line x1="2049.59" y1="1341.60" x2="2049.59" y2="1331.60" stroke="#000" stroke-width="2.8"/>
<line x1="2121.72" y1="1341.60" x2="2121.72" y2="1331.60" stroke="#000" stroke-width="2.8"/>
<line x1="2193.84" y1="1341.60" x2="2193.84" y2="1331.60" stroke="#000" stroke-width="2.8"/>
<line x1="2265.97" y1="1341.60" x2="2265.97" y2="1331.60" stroke="#000" stroke-width="2.8"/>
<line x1="1652.89" y1="1341.60" x2="1652.89" y2="1336.60" stroke="#000" stroke-width="2.8"/>
<line x1="1725.02" y1="1341.60" x2="1725.02" y2="1336.60" stroke="#000" stroke-width="2.8"/>
<line x1="1797.15" y1="1341.60" x2="1797.15" y2="1336.60" stroke="#000" stroke-width="2.8"/>
<line x1="1869.27" y1="1341.60" x2="1869.27" y2="1336.60" stroke="#000" stroke-width="2.8"/>
<line x1="1941.40" y1="1341.60" x2="1941.40" y2="1336.60" stroke="#000" stroke-width="2.8"/>
<line x1="2013.53" y1="1341.60" x2="2013.53" y2="1336.60" stroke="#000" stroke-width="2.8"/>
<line x1="2085.65" y1="1341.60" x2="2085.65" y2="1336.60" stroke="#000" stroke-width="2.8"/>
<line x1="2157.78" y1="1341.60" x2="2157.78" y2="1336.60" stroke="#000" stroke-width="2.8"/>
<line x1="2229.91" y1="1341.60" x2="2229.91" y2="1336.60" stroke="#000" stroke-width="2.8"/>
<text transform="translate(1588.10,1322.43) scale(1,1)" font-family="'Liberation Sans', Arial, sans-serif" font-weight="bold" font-size="21.6" text-anchor="end" fill="#111">0.50</text>
<text transform="translate(1588.10,1262.51) scale(1,1)" font-family="'Liberation Sans', Arial, sans-serif" font-weight="bold" font-size="21.6" text-anchor="end" fill="#111">0.75</text>
<text transform="translate(1588.10,1202.60) scale(1,1)" font-family="'Liberation Sans', Arial, sans-serif" font-weight="bold" font-size="21.6" text-anchor="end" fill="#111">1.00</text>
<text transform="translate(1588.10,1142.68) scale(1,1)" font-family="'Liberation Sans', Arial, sans-serif" font-weight="bold" font-size="21.6" text-anchor="end" fill="#111">1.25</text>
<text transform="translate(1588.10,1082.76) scale(1,1)" font-family="'Liberation Sans', Arial, sans-serif" font-weight="bold" font-size="21.6" text-anchor="end" fill="#111">1.50</text>
<text transform="translate(1588.10,1022.84) scale(1,1)" font-family="'Liberation Sans', Arial, sans-serif" font-weight="bold" font-size="21.6" text-anchor="end" fill="#111">1.75</text>
<text transform="translate(1588.10,962.92) scale(1,1)" font-family="'Liberation Sans', Arial, sans-serif" font-weight="bold" font-size="21.6" text-anchor="end" fill="#111">2.00</text>
<text transform="translate(1588.10,903.00) scale(1,1)" font-family="'Liberation Sans', Arial, sans-serif" font-weight="bold" font-size="21.6" text-anchor="end" fill="#111">2.25</text>
<text transform="translate(1588.10,843.08) scale(1,1)" font-family="'Liberation Sans', Arial, sans-serif" font-weight="bold" font-size="21.6" text-anchor="end" fill="#111">2.50</text>
<text transform="translate(1616.83,1367.60) scale(1,1)" font-family="'Liberation Sans', Arial, sans-serif" font-weight="bold" font-size="21.6" text-anchor="middle" fill="#111">0</text>
<text transform="translate(1688.96,1367.60) scale(1,1)" font-family="'Liberation Sans', Arial, sans-serif" font-weight="bold" font-size="21.6" text-anchor="middle" fill="#111">20</text>
<text transform="translate(1761.08,1367.60) scale(1,1)" font-family="'Liberation Sans', Arial, sans-serif" font-weight="bold" font-size="21.6" text-anchor="middle" fill="#111">40</text>
<text transform="translate(1833.21,1367.60) scale(1,1)" font-family="'Liberation Sans', Arial, sans-serif" font-weight="bold" font-size="21.6" text-anchor="middle" fill="#111">60</text>
<text transform="translate(1905.34,1367.60) scale(1,1)" font-family="'Liberation Sans', Arial, sans-serif" font-weight="bold" font-size="21.6" text-anchor="middle" fill="#111">80</text>
<text transform="translate(1977.46,1367.60) scale(1,1)" font-family="'Liberation Sans', Arial, sans-serif" font-weight="bold" font-size="21.6" text-anchor="middle" fill="#111">100</text>
<text transform="translate(2049.59,1367.60) scale(1,1)" font-family="'Liberation Sans', Arial, sans-serif" font-weight="bold" font-size="21.6" text-anchor="middle" fill="#111">120</text>
<text transform="translate(2121.72,1367.60) scale(1,1)" font-family="'Liberation Sans', Arial, sans-serif" font-weight="bold" font-size="21.6" text-anchor="middle" fill="#111">140</text>
<text transform="translate(2193.84,1367.60) scale(1,1)" font-family="'Liberation Sans', Arial, sans-serif" font-weight="bold" font-size="21.6" text-anchor="middle" fill="#111">160</text>
<text transform="translate(2265.97,1367.60) scale(1,1)" font-family="'Liberation Sans', Arial, sans-serif" font-weight="bold" font-size="21.6" text-anchor="middle" fill="#111">180</text>
<text x="1950.20" y="1399.00" font-family="'Liberation Serif', 'Times New Roman', serif" font-size="25.5" text-anchor="middle" fill="#222">Angle(°)</text>
<text transform="translate(1535.00,1082.70) rotate(-90)" font-family="'Liberation Serif', 'Times New Roman', serif" font-size="26.6" text-anchor="middle" fill="#222">Sensor voltage output(V)</text>
<polyline points="1616.83,1283.67 1652.89,1261.67 1688.96,1236.65 1725.02,1213.42 1761.08,1193.41 1797.15,1170.14 1833.21,1148.71 1869.27,1123.18 1905.34,1097.68 1941.40,1072.95 1977.46,1047.95 2013.53,1022.57 2049.59,997.33 2085.65,971.14 2121.72,948.58 2157.78,922.29 2193.84,900.79 2229.91,876.15 2265.97,850.29" fill="none" stroke="#0070E4" stroke-width="2.9" stroke-linejoin="round"/>
<circle cx="1616.83" cy="1283.67" r="4.7" fill="#0070E4"/>
<circle cx="1652.89" cy="1261.67" r="4.7" fill="#0070E4"/>
<circle cx="1688.96" cy="1236.65" r="4.7" fill="#0070E4"/>
<circle cx="1725.02" cy="1213.42" r="4.7" fill="#0070E4"/>
<circle cx="1761.08" cy="1193.41" r="4.7" fill="#0070E4"/>
<circle cx="1797.15" cy="1170.14" r="4.7" fill="#0070E4"/>
<circle cx="1833.21" cy="1148.71" r="4.7" fill="#0070E4"/>
<circle cx="1869.27" cy="1123.18" r="4.7" fill="#0070E4"/>
<circle cx="1905.34" cy="1097.68" r="4.7" fill="#0070E4"/>
<circle cx="1941.40" cy="1072.95" r="4.7" fill="#0070E4"/>
<circle cx="1977.46" cy="1047.95" r="4.7" fill="#0070E4"/>
<circle cx="2013.53" cy="1022.57" r="4.7" fill="#0070E4"/>
<circle cx="2049.59" cy="997.33" r="4.7" fill="#0070E4"/>
<circle cx="2085.65" cy="971.14" r="4.7" fill="#0070E4"/>
<circle cx="2121.72" cy="948.58" r="4.7" fill="#0070E4"/>
<circle cx="2157.78" cy="922.29" r="4.7" fill="#0070E4"/>
<circle cx="2193.84" cy="900.79" r="4.7" fill="#0070E4"/>
<circle cx="2229.91" cy="876.15" r="4.7" fill="#0070E4"/>
<circle cx="2265.97" cy="850.29" r="4.7" fill="#0070E4"/>
<line x1="1629.20" y1="893.10" x2="1728.70" y2="893.10" stroke="#0070E4" stroke-width="2.9"/>
<circle cx="1679.00" cy="893.10" r="4.7" fill="#0070E4"/>
<text x="1738.00" y="906.40" font-family="'Liberation Serif', 'Times New Roman', serif" font-size="42.4" fill="#111">Sensor sample3</text>
<rect x="1598.80" y="826.30" width="685.20" height="515.30" fill="none" stroke="#111" stroke-width="3"/>
<line x1="716.20" y1="712.30" x2="1140.44" y2="935.26" stroke="#FF8000" stroke-width="3.2"/>
<polygon points="1154.60,942.70 1128.98,937.71 1140.44,935.26 1135.96,924.43" fill="#FF8000"/>
<line x1="2001.40" y1="1027.30" x2="1731.42" y2="553.60" stroke="#0070E4" stroke-width="3.2"/>
<polygon points="1723.50,539.70 1742.40,557.71 1731.42,553.60 1729.36,565.13" fill="#0070E4"/>
</svg>
</body></html>
